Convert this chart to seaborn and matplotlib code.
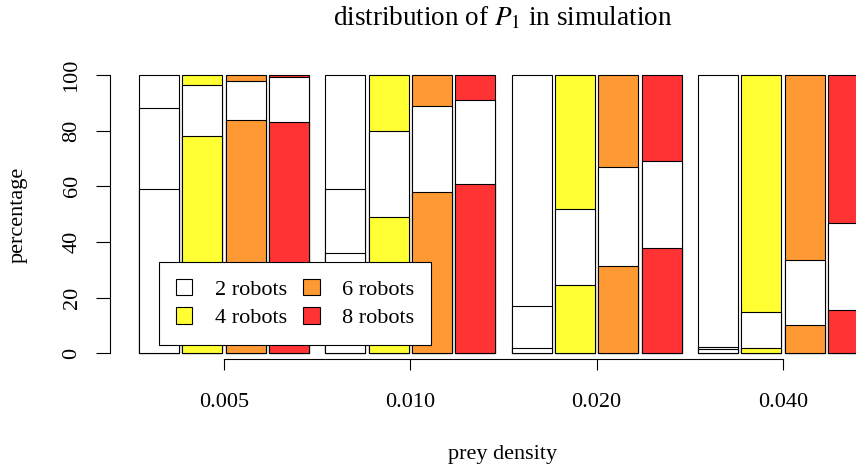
import pandas as pd
import seaborn as sns
import matplotlib.pyplot as plt
from matplotlib.patches import Patch

densities = ["0.005", "0.010", "0.020", "0.040"]
robot_labels = ["2 robots", "4 robots", "6 robots", "8 robots"]
robot_colors = ["white", "#FFFF33", "#FF9933", "#FF3333"]

# share (%) of runs in the lower and middle band of P1, per robot count
# (upper band is the rest up to 100)
low_2 = [59, 36, 2, 1.5]
mid_2 = [29, 23, 15, 0.8]
low_4 = [78, 49, 24.5, 2]
mid_4 = [18.5, 31, 27.5, 13]
low_6 = [84, 58, 31.5, 10]
mid_6 = [14, 31, 35.5, 23.5]
low_8 = [83, 61, 37.7, 15.5]
mid_8 = [16.3, 30, 31.3, 31.5]

rows = []
for lab, low, mid in zip(robot_labels, [low_2, low_4, low_6, low_8], [mid_2, mid_4, mid_6, mid_8]):
    for d, l, m in zip(densities, low, mid):
        rows.append({"density": d, "robots": lab, "low": l, "lowmid": l + m, "all": 100.0})
df = pd.DataFrame(rows)

sns.set_style("ticks")
plt.rcParams["font.family"] = ["Liberation Serif", "DejaVu Serif"]
plt.rcParams["mathtext.fontset"] = "stix"
plt.rcParams["text.color"] = "black"

W, H = 856, 467
fig = plt.figure(figsize=(W / 100, H / 100), dpi=100)
ax = fig.add_axes([110 / W, 1 - 359 / H, (856 - 110) / W, (359 - 60) / H])

colors = dict(zip(robot_labels, robot_colors))
whites = dict.fromkeys(robot_labels, "white")
common = dict(data=df, x="density", hue="robots", order=densities, hue_order=robot_labels,
              dodge=True, width=0.93, gap=0.076, saturation=1, edgecolor="black",
              linewidth=0.8, errorbar=None, legend=False, ax=ax)

# stacked look: full bar, then white middle band, then lower band on top
sns.barplot(y="all", palette=colors, **common)
sns.barplot(y="lowmid", palette=whites, **common)
sns.barplot(y="low", palette=colors, **common)

ax.set_xlim(-0.612, 3.392)
ax.set_ylim(-2.05, 105.4)
ax.set_xlabel("")
ax.set_ylabel("")
ax.set_yticks(range(0, 101, 20))
ax.set_yticklabels([str(v) for v in range(0, 101, 20)], rotation=90, va="center")
ax.set_xticks(range(4))
ax.set_xticklabels(densities)

sns.despine(ax=ax)
for side in ["left", "bottom"]:
    ax.spines[side].set_color("black")
    ax.spines[side].set_linewidth(0.8)
ax.spines["left"].set_bounds(0, 100)
ax.spines["bottom"].set_bounds(0, 3)
ax.tick_params(axis="y", length=10, width=0.8, pad=10.5, labelsize=16, colors="black")
ax.tick_params(axis="x", length=8, width=0.8, pad=16.5, labelsize=16, colors="black")

handles = [Patch(facecolor=c, edgecolor="black", linewidth=0.8) for c in robot_colors]
leg = fig.legend(handles, robot_labels, loc="upper left", bbox_to_anchor=(159 / W, 1 - 262 / H),
                 ncol=2, fontsize=16, frameon=True, fancybox=False, edgecolor="black",
                 framealpha=1, handlelength=0.75, handleheight=0.75, handletextpad=1.0,
                 columnspacing=0.75, borderpad=0.75, labelspacing=0.35, borderaxespad=0)
leg.get_frame().set_linewidth(0.8)

fig.text(503 / W, 1 - 25 / H, "distribution of $P_1$ in simulation", ha="center",
         va="baseline", fontsize=19.5)
fig.text(503 / W, 1 - 455 / H, "prey density", ha="center", va="center", fontsize=16)
fig.text(18 / W, 1 - 215 / H, "percentage", rotation=90, ha="center", va="center", fontsize=16)

fig.savefig("out.png", dpi=100)
